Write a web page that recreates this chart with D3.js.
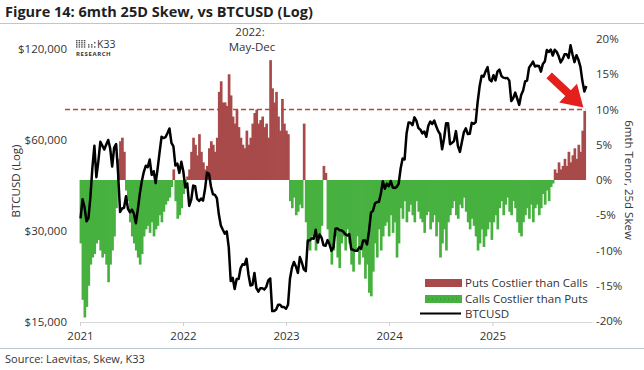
<!DOCTYPE html>
<html>
<head>
<meta charset="utf-8">
<script src="https://cdn.jsdelivr.net/npm/d3@7"></script>
<style>
  body { margin: 0; background: #fff; }
  svg { display: block; font-family: "Open Sans", sans-serif; }
</style>
</head>
<body>
<svg id="chart" width="644" height="370"></svg>
<script>
// weekly values, first week is Sunday 2021-01-03
var firstWeek = new Date(2021, 0, 3)

// BTCUSD weekly close
var btc2021 = [33000, 38200, 36000, 32300, 33100,
  39000, 48700, 57400, 45200,
  51000, 59200, 57500, 55800,
  58000, 60000, 56200, 49000,
  56600, 58200, 46500, 34700, 35600,
  35800, 39100, 35500, 34600,
  35300, 34200, 31800, 35400,
  39900, 43800, 47000, 49300, 48800,
  51700, 46000, 47300, 43200,
  48200, 54700, 61500, 60900, 61300,
  63300, 65500, 58700, 57200,
  49400, 50100, 46700, 50800]
var btc2022 = [47300, 41800, 43100, 36300, 38000,
  42400, 42200, 38300, 37700,
  38400, 37800, 41300, 46800,
  46400, 42100, 39700, 39500,
  38500, 34000, 31300, 30300, 29400,
  29900, 26500, 20500, 21000,
  19300, 20800, 20800, 22600, 23300,
  23200, 24300, 21500, 19800,
  19900, 21800, 19400, 18900,
  19400, 19400, 19200, 19600, 20600,
  20900, 16300, 16300, 16500,
  17100, 17100, 16800, 16800]
var btc2023 = [16600, 17100, 20900, 22700, 23700,
  22900, 21800, 24600, 23600,
  22400, 22100, 27900, 27900,
  28400, 28300, 30300, 27500, 29200,
  28500, 26900, 26800, 28000,
  27100, 25800, 26500, 30500,
  30600, 30200, 30200, 29800, 29300,
  29000, 29300, 26100, 26000,
  25800, 25800, 26500, 26200,
  27900, 27900, 27100, 30000, 34500,
  35000, 37000, 37400, 37400,
  39900, 43800, 41400, 43000, 42200]
var btc2024 = [43900, 41800, 41600, 42000,
  43000, 48300, 52100, 51700,
  63000, 68500, 68400, 67200, 71300,
  69400, 65700, 64900, 63100,
  64000, 61500, 66900, 69000,
  67800, 69600, 66600, 64200, 62700,
  55900, 60800, 68200, 68200,
  58100, 58700, 59500, 64200,
  57300, 54800, 59100, 63600, 65600,
  62800, 62900, 68400, 67900,
  68700, 80300, 90500, 97900,
  97200, 101200, 104500, 95100, 93700]
var btc2025 = [98300, 94500, 101000, 102600,
  97700, 96500, 96100, 96300,
  94300, 80700, 82600, 86100, 82300,
  78400, 84500, 87500, 93700,
  94300, 104100, 106400, 109000,
  105000, 105700, 105500, 101000, 107100,
  109200, 119100, 117300, 119400,
  114200, 119300, 117400, 113500, 108300,
  111100, 115300, 115300, 112200,
  123500, 115100, 108600, 114500,
  110500, 104700, 94000, 86800, 90500]

// 6mth 25d skew, % (positive = puts costlier)
var skew2021 = [-9, -17, -19.5, -18, -15,
  -12, -11, -10.5,
  -9, -8.5, -10, -11,
  -10.5, -12, -14.5, -12,
  -10, -8, -4,
  3, 5.5, 6, 4,
  -1.5, -3,
  -6, -8, -9, -10, -11, -12, -10.5,
  -8, -7, -6.5, -7.5, -6, -8, -7,
  -6.5, -5, -6, -4.5, -3.5, -3,
  -2.5, -1, 1.5,
  -3, -5.5, -5, -4]
var skew2022 = [-2, -0.5, 0.5, 1.5,
  4, 6, 5, 3.5, 6.5, 4, 2.5,
  1.5, 2, 4.5, 5.5, 5, 4, 6,
  12.5, 14, 11,
  11, 10.5, 15, 12,
  9, 8, 10, 7.5,
  6, 5, 4.5, 7, 5, 6,
  8, 9.5, 10, 8,
  8.5, 9, 7.5, 8, 6,
  17, 13,
  11, 12.5, 9, 7,
  11.5, 8]
var skew2023 = [7, 6.5,
  -3, -4, -2.5, -5, -4.5, -3.5, -4,
  8,
  -6, -9, -10, -8, -7.5, -10, -9, -8, -6.5,
  2, 1,
  -7, -9, -12, -10, -8, -11, -12.5, -9,
  -8, -10, -7, -9,
  -12, -13, -10,
  -8, -12, -10, -11,
  -14, -12, -16, -16.5, -13,
  -9, -11, -7, -10, -8, -6.5,
  -6, -8]
var skew2024 = [-5, -7.5, -6,
  -11, -9,
  -4, -5.5, -3, -6, -4.5, -3.5, -5, -6, -3, -4.5, -5.5,
  -6, -7.5, -5, -4.5, -7, -6, -5,
  -8, -6, -11, -9, -7, -10, -6, -5,
  -4, -3, -5, -5.5, -3.5, -4, -2.5,
  -4.5, -6, -7, -5.5, -6.5,
  -8, -10, -9, -7, -9.5, -8,
  -7, -6, -8.5]
var skew2025 = [-6, -5, -7,
  -4, -3, -5, -3.5, -2.5, -4.5, -5, -3, -4,
  -6, -7.5, -8, -6, -5,
  -4, -5.5, -3.5, -6, -4, -3.5, -5, -4,
  -2, -3.5, -1.5, -3, -1, -0.5,
  1.5, 1, 2.5, 1.5, 2,
  3, 2, 4, 2.5, 3.5,
  4.5, 3, 5, 4,
  7, 9.8]

var yearTicks = [2021, 2022, 2023, 2024, 2025]
var priceTicks = [15000, 30000, 60000, 120000]
var skewTicks = [-20, -15, -10, -5, 0, 5, 10, 15, 20]
var skewThreshold = 10
var legendLabels = ['Puts Costlier than Calls', 'Calls Costlier than Puts', 'BTCUSD']

var btc = [].concat(btc2021, btc2022, btc2023, btc2024, btc2025).map(function(v, i) {
  return { date: d3.timeWeek.offset(firstWeek, i), value: v }
})
var skew = [].concat(skew2021, skew2022, skew2023, skew2024, skew2025).map(function(v, i) {
  return { date: d3.timeWeek.offset(firstWeek, i), value: v }
})

var red = '#a84a4a', green = '#47b13f', ink = '#333'

var svg = d3.select('#chart')

var x = d3.scaleTime()
  .domain([new Date(2021, 0, 1), new Date(2025, 11, 20)])
  .range([80, 592])
var yPrice = d3.scaleLog().domain([15000, 120000]).range([322, 49])
var ySkew = d3.scaleLinear().domain([-20, 20]).range([321, 39])

// title + rules
svg.append('text')
  .attr('x', 5).attr('y', 17)
  .attr('font-size', 14.5).attr('font-weight', 700).attr('fill', '#1f1f1f')
  .text('Figure 14: 6mth 25D Skew, vs BTCUSD (Log)')
svg.append('line').attr('x1', 0).attr('x2', 644).attr('y1', 23.5).attr('y2', 23.5)
  .attr('stroke', '#b9c6d3').attr('stroke-width', 1.2)
svg.append('line').attr('x1', 0).attr('x2', 644).attr('y1', 348.5).attr('y2', 348.5)
  .attr('stroke', '#b9c6d3').attr('stroke-width', 1.2)
svg.append('text')
  .attr('x', 5).attr('y', 363)
  .attr('font-size', 11).attr('fill', ink)
  .text('Source: Laevitas, Skew, K33')

// skew bars
var bw = x(d3.timeWeek.offset(firstWeek, 1)) - x(firstWeek)
svg.append('g')
  .selectAll('rect')
  .data(skew)
  .enter()
  .append('rect')
    .attr('x', function(d) { return x(d.date) - bw / 2 })
    .attr('width', bw + 0.7)
    .attr('y', function(d) { return Math.min(ySkew(d.value), ySkew(0)) })
    .attr('height', function(d) { return Math.abs(ySkew(d.value) - ySkew(0)) })
    .attr('fill', function(d) { return d.value >= 0 ? red : green })

// 10% threshold
var lastDate = skew[skew.length - 1].date
svg.append('line')
  .attr('x1', x.range()[0] - 15).attr('x2', x(lastDate) + bw / 2)
  .attr('y1', ySkew(skewThreshold)).attr('y2', ySkew(skewThreshold))
  .attr('stroke', '#b5453f').attr('stroke-width', 1.3).attr('stroke-dasharray', '5,3')

// btc line
var line = d3.line()
  .x(function(d) { return x(d.date) })
  .y(function(d) { return yPrice(d.value) })
svg.append('path')
  .datum(btc)
  .attr('d', line)
  .attr('fill', 'none')
  .attr('stroke', '#000')
  .attr('stroke-width', 2.5)
  .attr('stroke-linejoin', 'round')

// axes
var xAxis = svg.append('g')
  .attr('transform', 'translate(0,322)')
  .call(d3.axisBottom(x)
    .tickValues(yearTicks.map(function(y) { return new Date(y, 0, 1) }))
    .tickFormat(d3.timeFormat('%Y'))
    .tickSize(4).tickSizeOuter(0).tickPadding(6))
xAxis.select('.domain').attr('stroke', '#d6d6d6').attr('stroke-width', 1.2)
xAxis.selectAll('.tick line').attr('stroke', '#d0d0d0')

var leftAxis = svg.append('g')
  .attr('transform', 'translate(70,0)')
  .call(d3.axisLeft(yPrice)
    .tickValues(priceTicks)
    .tickFormat(function(d) { return '$' + d3.format(',')(d) })
    .tickSize(0).tickPadding(3))
leftAxis.select('.domain').remove()

var rightAxis = svg.append('g')
  .attr('transform', 'translate(592,0)')
  .call(d3.axisRight(ySkew)
    .tickValues(skewTicks)
    .tickFormat(function(d) { return d + '%' })
    .tickSize(0).tickPadding(4))
rightAxis.select('.domain').remove()

svg.selectAll('.tick text')
  .attr('font-family', '"Open Sans", sans-serif')
  .attr('font-size', 11.5)
  .attr('fill', ink)

svg.append('text')
  .attr('transform', 'translate(20,181) rotate(-90)')
  .attr('text-anchor', 'middle')
  .attr('font-size', 11.5).attr('fill', ink)
  .text('BTCUSD (Log)')
svg.append('text')
  .attr('transform', 'translate(625,180) rotate(90)')
  .attr('text-anchor', 'middle')
  .attr('font-size', 11.5).attr('fill', ink)
  .text('6mth Tenor, 25d Skew')

// annotation
svg.append('text')
  .attr('x', 250).attr('y', 36)
  .attr('text-anchor', 'middle').attr('font-size', 11.5).attr('fill', ink)
  .text('2022:')
svg.append('text')
  .attr('x', 252).attr('y', 51)
  .attr('text-anchor', 'middle').attr('font-size', 11.5).attr('fill', ink)
  .text('May-Dec')

// arrow pointing at last skew reading
var tipX = x(lastDate) - 1, tipY = ySkew(skewThreshold) - 2
var ang = Math.atan2(32, 34)
var ux = Math.cos(ang), uy = Math.sin(ang), px = -uy, py = ux
var len = 47, headLen = 21, headW = 13, shaftW = 4
var bx = tipX - ux * headLen, by = tipY - uy * headLen
var tx = tipX - ux * len, ty = tipY - uy * len
var pts = [
  [tx + px * shaftW, ty + py * shaftW],
  [bx + px * shaftW, by + py * shaftW],
  [bx + px * headW, by + py * headW],
  [tipX, tipY],
  [bx - px * headW, by - py * headW],
  [bx - px * shaftW, by - py * shaftW],
  [tx - px * shaftW, ty - py * shaftW]
]
svg.append('path')
  .attr('d', 'M' + pts.join('L') + 'Z')
  .attr('fill', '#e3201b')

// K33 logo
var logo = svg.append('g').attr('transform', 'translate(76,40)')
for (var c = 0; c < 4; c++) {
  for (var r = 0; r < 4; r++) {
    logo.append('rect').attr('x', c * 2.6).attr('y', r * 2.1).attr('width', 1.5).attr('height', 1.3).attr('fill', '#444')
  }
}
;[[12, 4.2], [12, 6.3], [15, 4.2], [15, 6.3], [18, 2.1], [18, 6.3]].forEach(function(p) {
  logo.append('rect').attr('x', p[0]).attr('y', p[1]).attr('width', 1.5).attr('height', 1.3).attr('fill', '#444')
})
logo.append('text').attr('x', 21).attr('y', 8)
  .attr('font-size', 10.5).attr('fill', ink).text('K33')
logo.append('text').attr('x', 0).attr('y', 15.5)
  .attr('font-size', 6).attr('font-weight', 700).attr('letter-spacing', 0.6).attr('fill', ink)
  .text('RESEARCH')

// legend
var legend = svg.append('g').attr('transform', 'translate(420,275)')
legend.append('rect').attr('x', 5).attr('y', 4).attr('width', 37).attr('height', 8).attr('fill', red)
legend.append('rect').attr('x', 5).attr('y', 20).attr('width', 37).attr('height', 8).attr('fill', green)
legend.append('line').attr('x1', 8).attr('x2', 40).attr('y1', 24).attr('y2', 24)
  .attr('stroke', '#2f7f2a').attr('stroke-width', 0.8).attr('stroke-dasharray', '1,3')
legend.append('line').attr('x1', 0).attr('x2', 41).attr('y1', 38.5).attr('y2', 38.5)
  .attr('stroke', '#000').attr('stroke-width', 2)
legend.selectAll('text.lbl')
  .data(legendLabels)
  .enter()
  .append('text')
    .attr('class', 'lbl')
    .attr('x', 45)
    .attr('y', function(d, i) { return 12 + i * 15.5 })
    .attr('font-size', 11.5).attr('fill', ink)
    .text(function(d) { return d })
</script>
</body>
</html>
